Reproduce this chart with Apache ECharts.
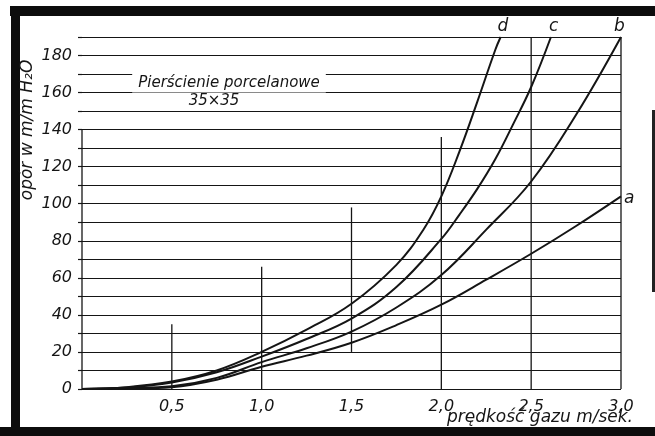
<!DOCTYPE html>
<html>
<head>
<meta charset="utf-8">
<script src="https://cdn.jsdelivr.net/npm/echarts@6/dist/echarts.min.js"></script>
<style>
html,body{margin:0;padding:0;background:#fff;}
#chart{width:655px;height:436px;}
</style>
</head>
<body>
<div id="chart"></div>
<script>
// ---- data ----
const curveNames = ['a', 'b', 'c', 'd'];
const speedA = [0, 0.25, 0.5, 0.75, 1.0, 1.25, 1.5, 1.75, 2.0, 2.25, 2.5, 2.75, 3.0];
const dropA  = [0, 0.3, 1, 5, 12, 18, 25, 34.5, 45.5, 59, 73, 88, 104];
const speedB = [0, 0.25, 0.5, 0.75, 1.0, 1.25, 1.5, 1.75, 2.0, 2.25, 2.5, 2.75, 3.0];
const dropB  = [0, 0.5, 1.5, 6, 14.5, 22, 31, 44, 61.5, 86, 112, 148, 190];
const speedC = [0, 0.25, 0.5, 0.75, 1.0, 1.25, 1.5, 1.75, 2.0, 2.1, 2.2, 2.3, 2.4, 2.5, 2.61];
const dropC  = [0, 0.8, 3.5, 9, 17.5, 27, 38, 55, 81, 94, 108, 124, 143, 163, 190];
const speedD = [0, 0.25, 0.5, 0.75, 1.0, 1.25, 1.5, 1.75, 1.9, 2.0, 2.1, 2.2, 2.3, 2.33];
const dropD  = [0, 1, 4, 10, 20, 32, 46, 67, 86, 104, 128, 155, 183, 190];

// partial vertical rulings of the drawing
const rulingX    = [0, 0.5, 1.0, 1.5, 2.0, 2.5, 3.0];
const rulingLow  = [0, 0, 0, 20, 0, 0, 0];
const rulingHigh = [140, 35, 66, 98, 136, 190, 190];

const xTicks = [0.5, 1.0, 1.5, 2.0, 2.5, 3.0];
const yTicks = [0, 20, 40, 60, 80, 100, 120, 140, 160, 180];

const titleText = 'Pierścienie porcelanowe';
const subText = '35×35';
const yName = 'opór w m/m H₂O';
const xName = 'prędkość gazu m/sek.';

// ---- chart ----
const INK = '#151515';
const FONT = 'DejaVu Sans';
const zip = (xs, ys) => xs.map((x, i) => [x, ys[i]]);

const curveData = { a: zip(speedA, dropA), b: zip(speedB, dropB), c: zip(speedC, dropC), d: zip(speedD, dropD) };

const labelOffsets = { a: [-5, 2], b: [-15, -10], c: [-10, -10], d: [-11, -10] };

const chart = echarts.init(document.getElementById('chart'));
const curveSeries = curveNames.map(n => ({
  name: n,
  type: 'line',
  data: curveData[n],
  smooth: 0.4,
  showSymbol: false,
  symbol: 'none',
  clip: false,
  lineStyle: { color: INK, width: 2 },
  endLabel: {
    show: true,
    formatter: n,
    color: INK,
    fontSize: 17,
    fontStyle: 'italic',
    fontFamily: FONT,
    offset: labelOffsets[n]
  },
  emphasis: { disabled: true },
  z: 5
}));

chart.setOption({
  animation: false,
  backgroundColor: '#fff',
  textStyle: { fontFamily: FONT },
  grid: { left: 82, right: 34, top: 37, bottom: 47, containLabel: false },
  xAxis: {
    type: 'value', min: 0, max: 3, interval: 0.5,
    axisLine: { show: false }, axisTick: { show: false }, splitLine: { show: false },
    axisLabel: {
      color: INK, fontSize: 16, fontStyle: 'italic', fontFamily: FONT, margin: 10,
      formatter: v => xTicks.some(t => Math.abs(t - v) < 1e-9) ? v.toFixed(1).replace('.', ',') : ''
    }
  },
  yAxis: {
    type: 'value', min: 0, max: 190, interval: 10,
    axisLine: { show: false },
    axisTick: { show: true, length: 4, lineStyle: { color: INK, width: 1.2 } },
    splitLine: { show: true, lineStyle: { color: INK, width: 1.2 } },
    axisLabel: {
      color: INK, fontSize: 16, fontStyle: 'italic', fontFamily: FONT, margin: 10,
      padding: [0, 0, 12, 0],
      formatter: v => yTicks.indexOf(v) >= 0 ? String(v) : ''
    }
  },
  series: [
    {
      type: 'custom',
      clip: false,
      encode: { x: 0, y: [1, 2] },
      data: rulingX.map((x, i) => [x, rulingLow[i], rulingHigh[i]]),
      renderItem: (params, api) => {
        const p0 = api.coord([api.value(0), api.value(1)]);
        const p1 = api.coord([api.value(0), api.value(2)]);
        return { type: 'line', shape: { x1: p0[0], y1: p0[1], x2: p1[0], y2: p1[1] },
                 style: { stroke: INK, lineWidth: 1.3 } };
      },
      silent: true,
      z: 3
    },
    ...curveSeries
  ],
  graphic: [
    { type: 'rect', shape: { x: 10, y: 6, width: 645, height: 10 }, style: { fill: '#0d0d0d' }, silent: true },
    { type: 'rect', shape: { x: 11, y: 6, width: 9, height: 430 }, style: { fill: '#0d0d0d' }, silent: true },
    { type: 'rect', shape: { x: 0, y: 427, width: 655, height: 9 }, style: { fill: '#0d0d0d' }, silent: true },
    { type: 'rect', shape: { x: 652, y: 110, width: 3, height: 182 }, style: { fill: '#222' }, silent: true },
    {
      type: 'text', x: 229, y: 83, z: 10,
      style: { text: titleText, fill: INK, font: 'italic 15px "DejaVu Sans"', align: 'center', verticalAlign: 'middle',
               backgroundColor: '#fff', padding: [2, 6, 2, 6] }
    },
    {
      type: 'text', x: 214, y: 101, z: 10,
      style: { text: subText, fill: INK, font: 'italic 15px "DejaVu Sans"', align: 'center', verticalAlign: 'middle' }
    },
    {
      type: 'text', x: 28, y: 130, rotation: Math.PI / 2, z: 10,
      style: { text: yName, fill: INK, font: 'italic 17px "DejaVu Sans"', align: 'center', verticalAlign: 'middle' }
    },
    {
      type: 'text', x: 540, y: 418, z: 10,
      style: { text: xName, fill: INK, font: 'italic 17px "DejaVu Sans"', align: 'center', verticalAlign: 'middle' }
    }
  ]
});
</script>
</body>
</html>
